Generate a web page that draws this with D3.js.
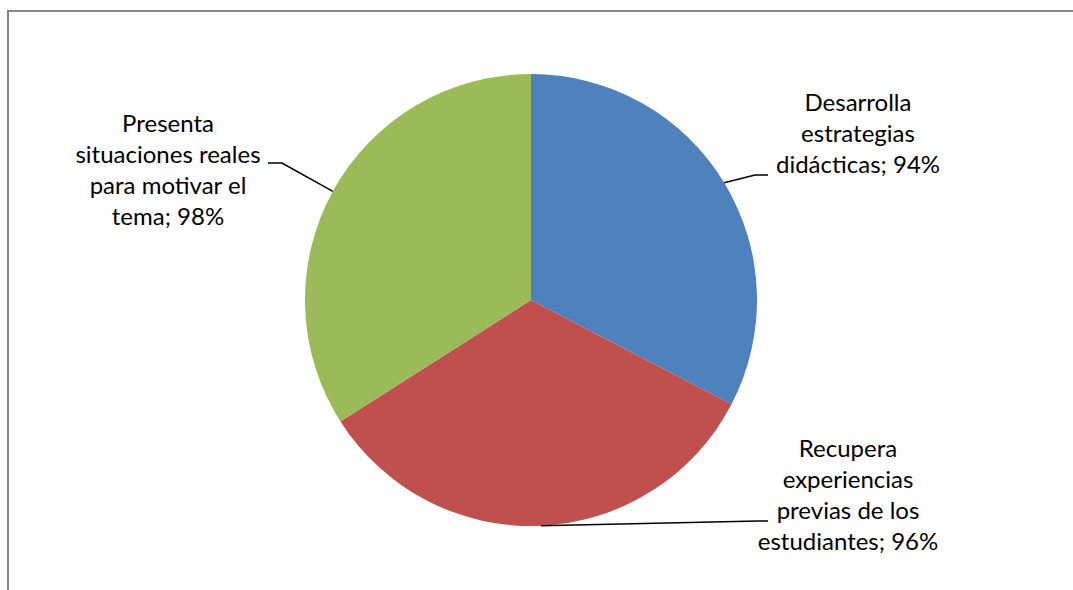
<!DOCTYPE html>
<html>
<head>
<meta charset="utf-8">
<script src="https://cdn.jsdelivr.net/npm/d3@7"></script>
<style>
  body { margin: 0; background: #fff; }
  text { font-family: Lato, "Open Sans", sans-serif; fill: #000; }
</style>
</head>
<body>
<div id="chart"></div>
<script>
var categories = [
  ["Desarrolla", "estrategias", "didácticas"],
  ["Recupera", "experiencias", "previas de los", "estudiantes"],
  ["Presenta", "situaciones reales", "para motivar el", "tema"]
];
var values = [94, 96, 98];
var colors = ["#4F81BD", "#C0504D", "#9BBB59"];

function init() {
  var width = 1073;
  var height = 590;
  var cx = 531, cy = 300, radius = 226;
  var lineHeight = 31;
  var fontSize = 24;

  // where each label block sits (centre x, first baseline y) and where its leader line bends
  var labelPos = [
    { x: 858, y: 111, elbow: [755, 175], end: [768, 175] },
    { x: 848, y: 457, elbow: [758, 521], end: [768, 521] },
    { x: 168, y: 132, elbow: [282, 163], end: [268, 163] }
  ];

  var svg = d3.select("#chart")
    .append("svg")
    .attr("width", width)
    .attr("height", height);

  // chart frame
  svg.append("rect")
    .attr("x", 8)
    .attr("y", 11)
    .attr("width", 1200)
    .attr("height", 1000)
    .attr("fill", "none")
    .attr("stroke", "#878787")
    .attr("stroke-width", 2);

  var pie = d3.pie().sort(null).value(function(d) { return d; });
  var arcs = pie(values);
  var arc = d3.arc().innerRadius(0).outerRadius(radius);

  var g = svg.append("g")
    .attr("transform", "translate(" + cx + "," + cy + ")");

  g.selectAll("path")
    .data(arcs)
    .enter()
    .append("path")
    .attr("d", arc)
    .attr("fill", function(d, i) { return colors[i]; });

  // leader lines
  svg.selectAll("path.leader")
    .data(arcs)
    .enter()
    .append("path")
    .attr("class", "leader")
    .attr("fill", "none")
    .attr("stroke", "#000")
    .attr("stroke-width", 1.5)
    .attr("d", function(d, i) {
      var a = (d.startAngle + d.endAngle) / 2;
      var x0 = cx + radius * Math.sin(a);
      var y0 = cy - radius * Math.cos(a);
      var p = labelPos[i];
      return "M" + x0 + "," + y0 + "L" + p.elbow[0] + "," + p.elbow[1] + "L" + p.end[0] + "," + p.end[1];
    });

  // labels
  var labels = svg.selectAll("text.lbl")
    .data(arcs)
    .enter()
    .append("text")
    .attr("class", "lbl")
    .attr("font-size", fontSize + "px")
    .attr("text-anchor", "middle");

  labels.each(function(d, i) {
    var lines = categories[i].slice();
    lines[lines.length - 1] = lines[lines.length - 1] + "; " + values[i] + "%";
    var p = labelPos[i];
    d3.select(this).selectAll("tspan")
      .data(lines)
      .enter()
      .append("tspan")
      .attr("x", p.x)
      .attr("y", function(t, j) { return p.y + j * lineHeight; })
      .text(function(t) { return t; });
  });
}
window.onload = init;
</script>
</body>
</html>
